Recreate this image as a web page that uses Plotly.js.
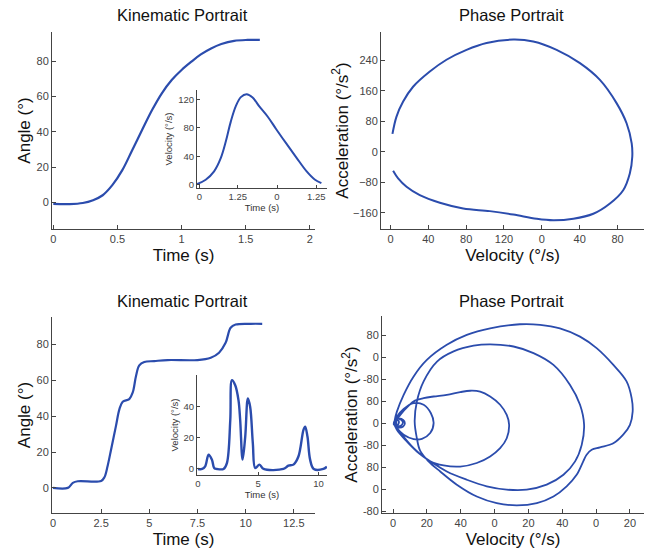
<!DOCTYPE html>
<html>
<head>
<meta charset="utf-8">
<script src="https://cdn.plot.ly/plotly-3.0.1.min.js"></script>
<style>html,body{margin:0;padding:0;background:#fff;}#chart{width:649px;height:552px;}</style>
</head>
<body>
<div id="chart"></div>
<script>
// ---------- DATA ----------
// Top-left: kinematic portrait (angle vs time)
const tlTime  = [0, 0.128, 0.23, 0.31, 0.385, 0.46, 0.538, 0.615, 0.692, 0.77, 0.846, 0.923, 1.0, 1.077, 1.15, 1.23, 1.31, 1.41, 1.513, 1.61];
const tlAngle = [-0.8, -0.9, -0.3, 1.3, 4.1, 9.8, 18.3, 29.6, 41, 52.3, 61.8, 69.3, 75, 79.7, 83.8, 87.2, 89.7, 91.5, 92.0, 92.0];
// Top-left inset: velocity vs time
const tlInsetTime = [0, 0.113, 0.222, 0.31, 0.375, 0.44, 0.506, 0.57, 0.645, 0.723, 0.81, 0.92, 1.03, 1.16, 1.29, 1.42, 1.53, 1.617];
const tlInsetVel  = [1, 7, 18.8, 37.7, 61, 89, 110.6, 123, 127, 122.4, 110, 95.5, 78, 58, 38.5, 19.5, 7.5, 2.4];
const tlInsetTickText = ["0", "1.25", "0", "1.25"];

// Top-right: phase portrait (acceleration vs velocity)
const trVel = [2.1, 6.3, 13.4, 23.9, 41.6, 59.2, 80.4, 101.6, 129.8, 150.9, 175.6, 200.3, 221.4, 239, 249.6, 255, 255.6, 253, 246, 232, 214.4, 193.3, 172, 154.5, 129.8, 105, 76.9, 52.2, 31, 17, 8.1, 2.8];
const trAcc = [47, 92, 132, 171, 211, 242, 268, 286, 295, 290, 268, 233, 189, 128, 75, 22, -13, -57, -101, -136, -163, -176, -180, -176, -165, -156, -149, -134, -114, -92, -70, -50];
const trVelTickText = ["0", "40", "80", "120", "0", "40", "80"];

// Bottom-left: kinematic portrait
const blTime  = [0, 0.77, 1.03, 1.29, 2.5, 2.67, 2.84, 3.02, 3.27, 3.45, 3.62, 3.96, 4.14, 4.31, 4.48, 4.74, 5.26, 5.95, 7.5, 8.19, 8.62, 8.96, 9.22, 9.48, 10.26, 10.86];
const blAngle = [0, 0, 2.8, 3.7, 3.9, 5.9, 12.4, 21.6, 34.6, 43.9, 48, 49.5, 53.2, 62.4, 68.3, 70.2, 70.7, 71.3, 71.3, 72.6, 75.4, 80.9, 89.3, 91.1, 91.5, 91.5];
// Bottom-left inset: velocity vs time
const blInsetTime = [0, 0.35, 0.6, 0.88, 1.16, 1.35, 1.57, 2.12, 2.4, 2.68, 2.82, 3.09, 3.36, 3.5, 3.7, 3.92, 4.14, 4.33, 4.55, 4.75, 5.1, 5.44, 7.09, 7.5, 7.92, 8.33, 8.75, 8.89, 9.08, 9.3, 9.6, 10.4, 10.69];
const blInsetVel  = [0, 0, 1.7, 9.2, 6, 0.5, 0, 0, 3.8, 31.6, 57.2, 54, 44.4, 31.6, 6, 20.9, 45.5, 40, 16.7, 0.6, 2.8, 0, 0, 2.1, 2.8, 8, 25.2, 27.3, 20.9, 6, 0, 0, 1.5];

// Bottom-right: phase portrait (one continuous trajectory)
const brVel = [0.5, 1.2, 2, 1.2, 0.4, 1,
  1.5, 3.5, 6, 7, 6, 3.5, 1.5, 0.8,
  2.5, 6.3, 12.2, 18.1, 22.4, 24, 22, 17.1, 12.2, 6.3, 2.3, 0.8,
  1, 2.3, 6.3, 12.2, 20, 31.8, 43.6, 57.4, 75, 86.9, 98.6, 110.5, 120.3, 130.2, 138, 141, 141.6, 140, 136, 130.2, 122.3, 117.4, 114.4, 112.4, 108.5, 102.6, 94.8, 85, 73.1, 61.3, 49.5, 37.7, 27.9, 21, 16, 14.1, 12.8,
  14.1, 18.1, 26, 35.8, 47.6, 57.4, 71.2, 83, 94.8, 104.6, 110.5, 112.9, 111.5, 107.6, 100.7, 90.8, 79, 67.2, 55.4, 43.6, 31.8, 22, 14.1, 7.3, 2.3, 0.8,
  2, 4, 5.5, 5.8, 4.5, 2.5, 1,
  4.3, 9, 13, 18.1, 24, 31.8, 39.7, 45.6, 51.5, 57.4, 63.3, 67.2, 68.6, 67.2, 63.3, 57.4, 49.5, 39.7, 29.9, 22, 12.2, 5.3, 1.5, 0.6,
  1.5, 3, 3.5, 2.5, 1, 0.5];
const brAcc = [0, 10, 4, -8, -3, 2,
  12, 17, 12, 0, -12, -16, -8, 0,
  25, 52, 73, 67, 36, 0, -36, -57, -58, -42, -18, -2,
  10, 42, 103, 170, 230, 285, 321, 345, 360, 358, 345, 315, 273, 212, 152, 91, 42, -6, -42, -73, -88, -97, -115, -139, -188, -230, -267, -291, -299, -291, -267, -224, -176, -139, -100, -55, 6,
  79, 152, 224, 261, 282, 287, 279, 255, 212, 139, 67, -6, -79, -139, -188, -224, -242, -242, -230, -206, -176, -139, -103, -61, -24, -3,
  12, 15, 8, 0, -10, -10, -3,
  30, 62, 82, 91, 97, 103, 113, 118, 115, 97, 67, 30, -6, -55, -91, -121, -145, -158, -154, -139, -91, -42, -10, 0,
  8, 10, 2, -6, -3, 0];
const brVelTickText = ["0", "20", "40", "0", "20", "40", "0", "20"];
const brAccTickText = ["-80", "0", "80", "-80", "0", "80", "-80", "0", "80"];

// ---------- STYLE ----------
const W = 649, H = 552;
const BLUE = '#2b4cad';
const FONT = 'Liberation Sans, Arial, sans-serif';
const px2x = (a, b) => [a / W, b / W];
const px2y = (top, bottom) => [1 - bottom / H, 1 - top / H];

function axis(extra) {
  return Object.assign({
    showline: true, linecolor: '#444', linewidth: 1,
    ticks: 'inside', ticklen: 4, tickcolor: '#444', tickwidth: 1,
    tickfont: {family: FONT, size: 11, color: '#444'},
    showgrid: false, zeroline: false, fixedrange: true, mirror: false
  }, extra);
}
const mainTitleFont = {family: FONT, size: 17, color: '#111'};
const insetTitleFont = {family: FONT, size: 9.5, color: '#333'};
const insetTickFont = {family: FONT, size: 9.5, color: '#444'};

function trace(x, y, xa, ya, width) {
  return {type: 'scatter', mode: 'lines', x: x, y: y, xaxis: xa, yaxis: ya, hoverinfo: 'skip', showlegend: false,
    line: {color: BLUE, width: width, shape: 'spline', smoothing: 1}};
}
const traces = [
  trace(tlTime, tlAngle, 'x', 'y', 2.2),
  trace(tlInsetTime, tlInsetVel, 'x2', 'y2', 2),
  trace(trVel, trAcc, 'x3', 'y3', 2),
  trace(blTime, blAngle, 'x4', 'y4', 2.2),
  trace(blInsetTime, blInsetVel, 'x5', 'y5', 2.4),
  trace(brVel, brAcc, 'x6', 'y6', 1.8)
];

const layout = {
  width: W, height: H, margin: {l: 0, r: 0, t: 0, b: 0},
  paper_bgcolor: '#fff', plot_bgcolor: 'rgba(0,0,0,0)',
  font: {family: FONT},
  // Top-left main
  xaxis: axis({domain: px2x(52, 315), anchor: 'y', range: [-0.01, 2.04], tickvals: [0, 0.5, 1, 1.5, 2],
    title: {text: 'Time (s)', font: mainTitleFont, standoff: 4}}),
  yaxis: axis({domain: px2y(32, 229), anchor: 'x', range: [-15, 96.5], tickvals: [0, 20, 40, 60, 80],
    title: {text: 'Angle (°)', font: mainTitleFont, standoff: 1}}),
  // Top-left inset
  xaxis2: axis({domain: px2x(197, 327), anchor: 'y2', range: [0, 1.69], tickvals: [0.03, 0.53, 1.04, 1.55], ticktext: tlInsetTickText,
    tickfont: insetTickFont, ticklen: 3, title: {text: 'Time (s)', font: insetTitleFont, standoff: 2}}),
  yaxis2: axis({domain: px2y(90, 188), anchor: 'x2', range: [-4.5, 133], tickvals: [0, 40, 80, 120],
    tickfont: insetTickFont, ticklen: 3, title: {text: 'Velocity (°/s)', font: insetTitleFont, standoff: 3}}),
  // Top-right
  xaxis3: axis({domain: px2x(381, 644), anchor: 'y3', range: [-10, 268], tickvals: [0, 40, 80, 120, 160, 200, 240], ticktext: trVelTickText,
    title: {text: 'Velocity (°/s)', font: mainTitleFont, standoff: 4}}),
  yaxis3: axis({domain: px2y(32, 229), anchor: 'x3', range: [-203, 315], tickvals: [-160, -80, 0, 80, 160, 240],
    title: {text: 'Acceleration (°/s<sup>2</sup>)', font: mainTitleFont, standoff: 0}}),
  // Bottom-left main
  xaxis4: axis({domain: px2x(52, 315), anchor: 'y4', range: [-0.05, 13.6], tickvals: [0, 2.5, 5, 7.5, 10, 12.5],
    title: {text: 'Time (s)', font: mainTitleFont, standoff: 4}}),
  yaxis4: axis({domain: px2y(317, 513), anchor: 'x4', range: [-14, 95.3], tickvals: [0, 20, 40, 60, 80],
    title: {text: 'Angle (°)', font: mainTitleFont, standoff: 1}}),
  // Bottom-left inset
  xaxis5: axis({domain: px2x(197, 327), anchor: 'y5', range: [-0.08, 10.7], tickvals: [0, 5, 10],
    tickfont: insetTickFont, ticklen: 3, title: {text: 'Time (s)', font: insetTitleFont, standoff: 2}}),
  yaxis5: axis({domain: px2y(375, 475), anchor: 'x5', range: [-3.9, 60.6], tickvals: [0, 20, 40],
    tickfont: insetTickFont, ticklen: 3, title: {text: 'Velocity (°/s)', font: insetTitleFont, standoff: 3}}),
  // Bottom-right
  xaxis6: axis({domain: px2x(382, 644), anchor: 'y6', range: [-6.5, 148.3], tickvals: [0, 20, 40, 60, 80, 100, 120, 140], ticktext: brVelTickText,
    title: {text: 'Velocity (°/s)', font: mainTitleFont, standoff: 4}}),
  yaxis6: axis({domain: px2y(316, 513), anchor: 'x6', range: [-327, 390], tickvals: [-320, -240, -160, -80, 0, 80, 160, 240, 320], ticktext: brAccTickText,
    title: {text: 'Acceleration (°/s<sup>2</sup>)', font: mainTitleFont, standoff: 0}}),
  annotations: [
    {text: 'Kinematic Portrait', x: 182.3 / W, y: 1 - 15 / H},
    {text: 'Phase Portrait', x: 511.7 / W, y: 1 - 15 / H},
    {text: 'Kinematic Portrait', x: 182.3 / W, y: 1 - 300.7 / H},
    {text: 'Phase Portrait', x: 511.7 / W, y: 1 - 300.7 / H}
  ].map(a => Object.assign({xref: 'paper', yref: 'paper', xanchor: 'center', yanchor: 'middle', showarrow: false,
    font: {family: FONT, size: 16.5, color: '#111'}}, a))
};

Plotly.newPlot('chart', traces, layout, {staticPlot: true, displayModeBar: false});
</script>
</body>
</html>
